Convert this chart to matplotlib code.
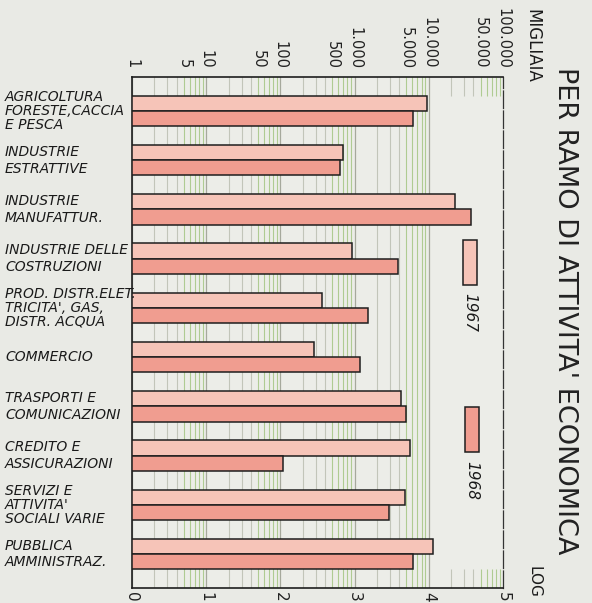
import matplotlib
matplotlib.use("Agg")
import matplotlib.pyplot as plt
import matplotlib.transforms as mtransforms
from matplotlib.patches import Rectangle
import numpy as np

# Occupati per ramo di attività economica (migliaia, scala logaritmica)
categories = [
    "AGRICOLTURA\nFORESTE,CACCIA\nE PESCA",
    "INDUSTRIE\nESTRATTIVE",
    "INDUSTRIE\nMANUFATTUR.",
    "INDUSTRIE DELLE\nCOSTRUZIONI",
    "PROD. DISTR.ELET.\nTRICITA', GAS,\nDISTR. ACQUA",
    "COMMERCIO",
    "TRASPORTI E\nCOMUNICAZIONI",
    "CREDITO E\nASSICURAZIONI",
    "SERVIZI E\nATTIVITA'\nSOCIALI VARIE",
    "PUBBLICA\nAMMINISTRAZ.",
]
values_1967 = [9330, 690, 22900, 910, 363, 282, 4270, 5500, 4790, 11500]
values_1968 = [6170, 645, 37200, 3800, 1510, 1175, 4900, 107, 2950, 6170]
years = ["1967", "1968"]

top_ticks = [1, 5, 10, 50, 100, 500, 1000, 5000, 10000, 50000, 100000]
top_labels = ["1", "5", "10", "50", "100", "500", "1.000", "5.000",
              "10.000", "50.000", "100.000"]
log_ticks = [0, 1, 2, 3, 4, 5]
log_labels = ["0", "1", "2", "3", "4", "5"]

W, H = 592, 603
BG = "#e9eae5"
C67 = "#f6c4b8"
C68 = "#f09d90"
EDGE = "#1e1e1e"

fig = plt.figure(figsize=(W / 100, H / 100), dpi=100)
fig.patch.set_facecolor(BG)
ax = fig.add_axes([132 / W, 1 - 588 / H, (503 - 132) / W, (588 - 77) / H])
ax.set_facecolor("#ecede8")

n = len(categories)
bar_h = 0.31
gap_top, gap_bot = -0.69, n - 1 + 0.69
ax.set_xlim(0, 5)
ax.set_ylim(gap_bot, gap_top)

# vertical log grid
for d in range(5):
    for m in range(1, 10):
        x = d + np.log10(m)
        if m == 1:
            col, lw = "#a6a99c", 0.9
        elif m < 5:
            col, lw = "#c2c5b9", 0.8
        else:
            col, lw = "#afcb92", 0.8
        if d < 4 or m == 1:
            ax.axvline(x, color=col, lw=lw, zorder=1)
        else:
            ax.vlines([x, x], [gap_top, n - 1 + 0.31], [-0.31, gap_bot],
                      color=col, lw=lw, zorder=1)

y = np.arange(n)
ax.barh(y - bar_h / 2, np.log10(values_1967), height=bar_h, color=C67,
        edgecolor=EDGE, linewidth=1.1, zorder=3)
ax.barh(y + bar_h / 2, np.log10(values_1968), height=bar_h, color=C68,
        edgecolor=EDGE, linewidth=1.1, zorder=3)

for side in ("left", "bottom", "top"):
    ax.spines[side].set_color(EDGE)
    ax.spines[side].set_linewidth(1.2)
ax.spines["right"].set_color("#333333")
ax.spines["right"].set_linewidth(0.9)
ax.spines["right"].set_linestyle((0, (14, 2)))

ax.set_yticks([])
ax.set_xticks(log_ticks, labels=log_labels)
ax.tick_params(axis="x", length=0, pad=3, labelsize=11, labelrotation=-90,
               labelcolor="#222222")

sec = ax.secondary_xaxis("top")
sec.set_xticks(np.log10(top_ticks), labels=top_labels)
sec.tick_params(length=0, pad=6, labelsize=10.5, labelrotation=-90,
                labelcolor="#222222")
sec.spines["top"].set_visible(False)

# category labels on the left
trans = mtransforms.blended_transform_factory(fig.transFigure, ax.transData)
for i, lab in enumerate(categories):
    nl = lab.count("\n") + 1
    ax.text(5 / W, i, lab, transform=trans, ha="left", va="center",
            fontsize=10, style="italic", color="#1a1a1a",
            linespacing=1.0 if nl == 3 else 1.25)

# title and axis captions
fig.text(565 / W, 1 - 311 / H, "PER RAMO DI ATTIVITA' ECONOMICA",
         rotation=-90, ha="center", va="center", fontsize=19.5,
         color="#222222")
fig.text(532 / W, 1 - 9 / H, "MIGLIAIA", rotation=-90, ha="center",
         va="top", fontsize=12, color="#1a1a1a")
fig.text(534 / W, 1 - 566 / H, "LOG", rotation=-90, ha="center",
         va="top", fontsize=11, color="#1a1a1a")

# legend
legend_boxes = [(463, 240, C67, 470, 293), (465, 407, C68, 472, 461)]
for (lx, ly, col, tx, ty), yr in zip(legend_boxes, years):
    fig.add_artist(Rectangle((lx / W, 1 - (ly + 45) / H), 14 / W, 45 / H,
                             transform=fig.transFigure, facecolor=col,
                             edgecolor=EDGE, linewidth=1.1))
    fig.text(tx / W, 1 - ty / H, yr, rotation=-90, ha="center", va="top",
             fontsize=11, style="italic", color="#1a1a1a")

fig.savefig("out.png", dpi=100, facecolor=BG)
